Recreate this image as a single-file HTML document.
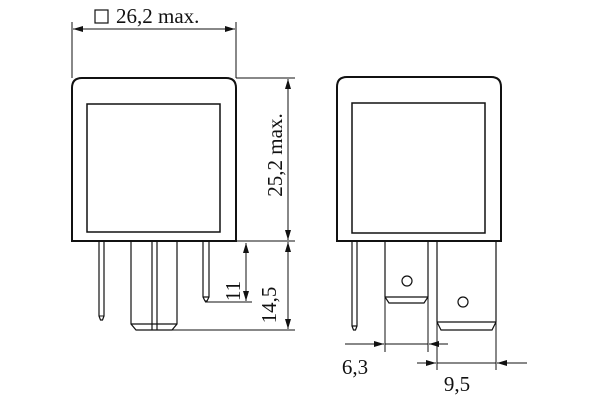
<!DOCTYPE html>
<html><head><style>body{margin:0;background:#fff}svg{display:block}text{font-family:"Liberation Serif",serif;fill:#111}</style></head>
<body>
<svg width="600" height="400" viewBox="0 0 600 400" xmlns="http://www.w3.org/2000/svg">
<defs>
<marker id="a" viewBox="0 0 10 6" refX="10" refY="3" markerWidth="10" markerHeight="6" orient="auto-start-reverse" markerUnits="userSpaceOnUse"><path d="M0,0L10,3L0,6z" fill="#111"/></marker>
</defs>
<g stroke="#111" fill="none">
<path d="M72,241V88Q72,78 82,78H226Q236,78 236,88V241Z" stroke-width="2"/>
<rect x="87" y="104" width="133" height="128" stroke-width="1.5"/>
<path d="M99,241V316L100.5,320H102.5L104,316V241" stroke-width="1.2"/>
<path d="M99,316H104" stroke-width="1"/>
<path d="M131,241V324L136,330H172L177,324V241M131,324H177M152,241V330M157,241V330" stroke-width="1.2"/>
<path d="M203,241V297L205,301H207L209,297V241M203,297H209" stroke-width="1.2"/>
<path d="M72,22V78M236,22V78" stroke-width="1"/>
<line x1="73" y1="29" x2="235" y2="29" stroke-width="1" marker-start="url(#a)" marker-end="url(#a)"/>
<path d="M236,78H295M236,241H295M205,302H252M160,330H295" stroke-width="1"/>
<line x1="288" y1="79" x2="288" y2="240" stroke-width="1" marker-start="url(#a)" marker-end="url(#a)"/>
<line x1="288" y1="242" x2="288" y2="329" stroke-width="1" marker-start="url(#a)" marker-end="url(#a)"/>
<line x1="246" y1="243" x2="246" y2="301" stroke-width="1" marker-start="url(#a)" marker-end="url(#a)"/>
<rect x="95" y="10" width="13" height="13" stroke-width="1.2"/>
<path d="M337,241V87Q337,77 347,77H491Q501,77 501,87V241Z" stroke-width="2"/>
<rect x="352" y="103" width="133" height="130" stroke-width="1.5"/>
<path d="M352,241V326L353.5,330H355.5L357,326V241M352,326H357" stroke-width="1.2"/>
<path d="M385,241V297L389,303H424L428,297V241M385,297H428" stroke-width="1.2"/>
<circle cx="407" cy="281" r="5" stroke-width="1.2"/>
<path d="M437,241V322L441,330H492L496,322V241M437,322H496" stroke-width="1.2"/>
<circle cx="463" cy="302" r="5" stroke-width="1.2"/>
<path d="M385,297V352M428,297V352M437,322V370M496,322V370" stroke-width="1"/>
<line x1="345" y1="344" x2="384" y2="344" stroke-width="1" marker-end="url(#a)"/>
<line x1="385" y1="344" x2="428" y2="344" stroke-width="1"/>
<line x1="448" y1="344" x2="429" y2="344" stroke-width="1" marker-end="url(#a)"/>
<line x1="417" y1="363" x2="436" y2="363" stroke-width="1" marker-end="url(#a)"/>
<line x1="437" y1="363" x2="496" y2="363" stroke-width="1"/>
<line x1="527" y1="363" x2="497" y2="363" stroke-width="1" marker-end="url(#a)"/>
</g>
<text x="116" y="23" font-size="21">26,2 max.</text>
<text transform="translate(282,155) rotate(-90)" font-size="21" text-anchor="middle">25,2 max.</text>
<text transform="translate(276,305) rotate(-90)" font-size="21" text-anchor="middle">14,5</text>
<text transform="translate(240,291) rotate(-90)" font-size="21" text-anchor="middle">11</text>
<text x="355" y="374" font-size="21" text-anchor="middle">6,3</text>
<text x="457" y="391" font-size="21" text-anchor="middle">9,5</text>
</svg>
</body></html>
